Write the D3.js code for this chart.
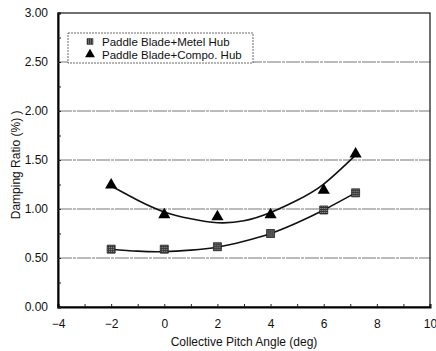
<!DOCTYPE html>
<html>
<head>
<meta charset="utf-8">
<script src="https://cdn.jsdelivr.net/npm/d3@7"></script>
<style>
  body { margin: 0; background: #fff; }
  svg text { font-family: "Liberation Sans", Arial, sans-serif; fill: #111; }
</style>
</head>
<body>
<svg id="chart" width="436" height="351"></svg>
<script>
// measured points
var pitch = [-2, 0, 2, 4, 6, 7.2];
var metalHub = [0.59, 0.59, 0.615, 0.75, 0.99, 1.165];
var compoHub = [1.235, 0.93, 0.91, 0.93, 1.18, 1.55];

// trend curves
var trendX = [-2, -1, 0, 1, 2, 3, 4, 5, 6, 7.2];
var metalTrend = [0.59, 0.57, 0.565, 0.58, 0.61, 0.67, 0.75, 0.86, 0.99, 1.165];
var compoTrend = [1.235, 1.09, 0.97, 0.9, 0.86, 0.88, 0.965, 1.09, 1.255, 1.55];

var xTicks = [-4, -2, 0, 2, 4, 6, 8, 10];
var yTicks = [0, 0.5, 1.0, 1.5, 2.0, 2.5, 3.0];
var seriesNames = ["Paddle Blade+Metel Hub", "Paddle Blade+Compo. Hub"];

var svg = d3.select("#chart");
var margin = {top: 13, right: 6, bottom: 44, left: 58},
    width = +svg.attr("width") - margin.left - margin.right,
    height = +svg.attr("height") - margin.top - margin.bottom;

var g = svg.append("g").attr("transform", "translate(" + margin.left + "," + margin.top + ")");

var x = d3.scaleLinear().domain([-4, 10]).range([0, width]);
var y = d3.scaleLinear().domain([0, 3]).range([height, 0]);

// gridlines
g.selectAll(".grid")
    .data(yTicks.slice(1, yTicks.length - 1))
    .enter().append("line")
    .attr("class", "grid")
    .attr("x1", 0).attr("x2", width)
    .attr("y1", function(d) { return y(d); })
    .attr("y2", function(d) { return y(d); })
    .attr("stroke", "#777")
    .attr("stroke-width", 1)
    .attr("stroke-dasharray", "14,1,3,1");

// frame
g.append("rect")
    .attr("width", width).attr("height", height)
    .attr("fill", "none").attr("stroke", "#111").attr("stroke-width", 1.2);

// x axis (inward minor ticks)
var xAxis = g.append("g")
    .attr("transform", "translate(0," + height + ")")
    .call(d3.axisBottom(x).tickValues(d3.range(-4, 10.01, 1)).tickSize(-3)
        .tickFormat(function(d) { return xTicks.indexOf(d) >= 0 ? d3.format("")(d).replace("-", "\u2212") : ""; }));
xAxis.select(".domain").attr("stroke", "#000").attr("stroke-width", 2);
xAxis.selectAll("line").attr("stroke", "#222");
xAxis.selectAll("text").attr("dy", "1.5em").style("font-size", "12px");

// y axis
var yAxis = g.append("g")
    .call(d3.axisLeft(y).tickValues(d3.range(0, 3.01, 0.25)).tickSize(-3)
        .tickFormat(function(d) { return yTicks.indexOf(d) >= 0 ? d3.format(".2f")(d) : ""; }));
yAxis.select(".domain").attr("stroke", "#000").attr("stroke-width", 2);
yAxis.selectAll("line").attr("stroke", "#222");
yAxis.selectAll("text").attr("x", -10).style("font-size", "12px");

// axis titles
svg.append("text")
    .attr("x", margin.left + x(3)).attr("y", 346)
    .attr("text-anchor", "middle").style("font-size", "12px")
    .text("Collective Pitch Angle (deg)");

svg.append("text")
    .attr("transform", "translate(20," + (margin.top + y(1.45)) + ") rotate(-90)")
    .attr("text-anchor", "middle").style("font-size", "12px")
    .text("Damping Ratio (%) )");

// trend curves
var line = d3.line()
    .x(function(d) { return x(d[0]); })
    .y(function(d) { return y(d[1]); })
    .curve(d3.curveNatural);

[metalTrend, compoTrend].forEach(function(t) {
    g.append("path")
        .datum(d3.zip(trendX, t))
        .attr("fill", "none")
        .attr("stroke", "#111")
        .attr("stroke-width", 1.6)
        .attr("d", line);
});

// pattern for the square markers
var defs = svg.append("defs");
var pat = defs.append("pattern").attr("id", "chk")
    .attr("width", 2).attr("height", 2).attr("patternUnits", "userSpaceOnUse");
pat.append("rect").attr("width", 2).attr("height", 2).attr("fill", "#333");
pat.append("rect").attr("width", 1).attr("height", 1).attr("fill", "#aaa");

var sq = d3.symbol().type(d3.symbolSquare).size(64);
var tri = d3.symbol().type(d3.symbolTriangle).size(64);

g.selectAll(".sq")
    .data(d3.zip(pitch, metalHub))
    .enter().append("path")
    .attr("class", "sq")
    .attr("transform", function(d) { return "translate(" + x(d[0]) + "," + y(d[1]) + ")"; })
    .attr("d", sq)
    .attr("fill", "url(#chk)")
    .attr("stroke", "#222").attr("stroke-width", 0.8);

g.selectAll(".tri")
    .data(d3.zip(pitch, compoHub))
    .enter().append("path")
    .attr("class", "tri")
    .attr("transform", function(d) { return "translate(" + x(d[0]) + "," + (y(d[1]) - 1) + ")"; })
    .attr("d", tri)
    .attr("fill", "#000");

// legend
var legend = svg.append("g").attr("transform", "translate(68,33)");
legend.append("rect")
    .attr("width", 185).attr("height", 30)
    .attr("fill", "#fff").attr("stroke", "#444").attr("stroke-width", 0.8)
    .attr("stroke-dasharray", "2,1");

var item = legend.selectAll(".legend")
    .data(seriesNames)
    .enter().append("g")
    .attr("class", "legend")
    .attr("transform", function(d, i) { return "translate(22," + (8.5 + i * 13) + ")"; });

item.append("path")
    .attr("d", function(d, i) { return i === 0 ? d3.symbol().type(d3.symbolSquare).size(36)() : d3.symbol().type(d3.symbolTriangle).size(42)(); })
    .attr("fill", function(d, i) { return i === 0 ? "url(#chk)" : "#000"; })
    .attr("stroke", function(d, i) { return i === 0 ? "#333" : "none"; })
    .attr("stroke-width", 0.6);

item.append("text")
    .attr("x", 12).attr("dy", "0.35em")
    .style("font-size", "11.5px")
    .text(function(d) { return d; });
</script>
</body>
</html>
